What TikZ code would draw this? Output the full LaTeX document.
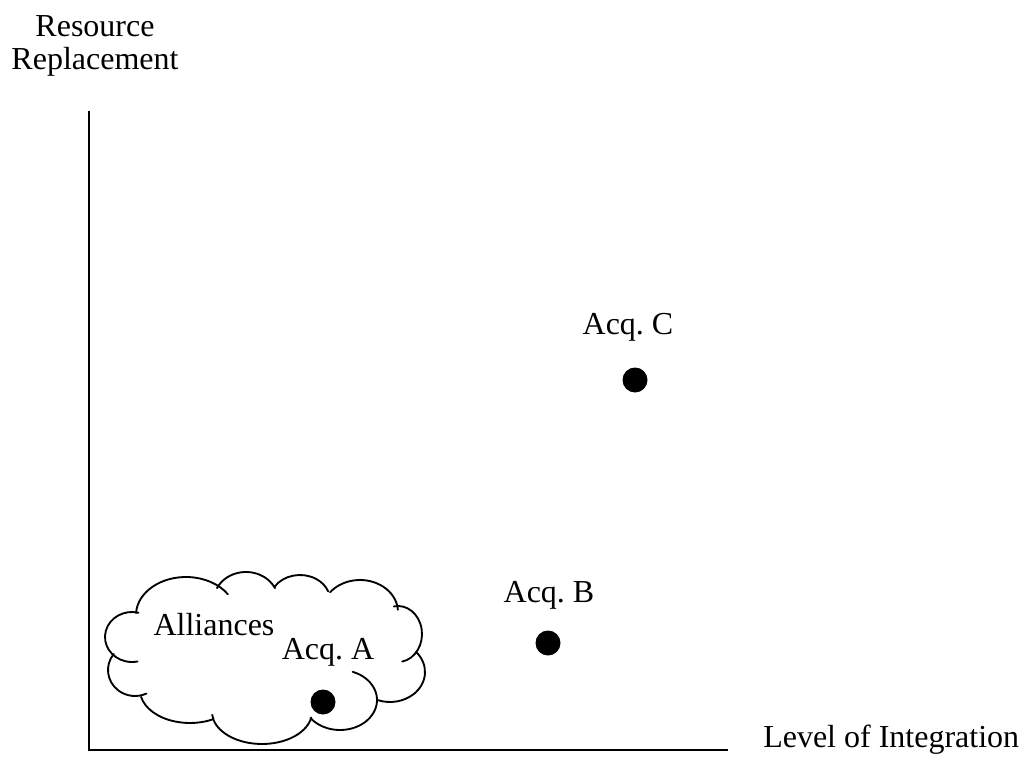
\documentclass[tikz,border=0pt]{standalone}
\usepackage{fontspec}
\setmainfont{Liberation Serif}
\frenchspacing
\newcommand\cloudarc[6]{\draw[cloudline] ([shift={(#5:#3 and #4)}]#1,#2) arc[start angle=#5, end angle=#6, x radius=#3, y radius=#4];}
\begin{document}
\begin{tikzpicture}[x=0.75pt,y=-0.75pt,
  lbl/.style={font=\fontsize{24}{25}\selectfont, inner sep=0pt},
  dot/.style={circle, fill=black, draw=none, minimum size=18.75pt, inner sep=0pt},
  axis/.style={line width=1.2pt},
  cloudline/.style={line width=1.4pt, line cap=round}]
\useasboundingbox (0,0) rectangle (1025,763);
% axes
\coordinate (ytop) at (89,111);
\coordinate (orig) at (89,750);
\coordinate (xend) at (728,750);
\draw[axis] (ytop) -- (orig) -- (xend);
% axis labels
\node[lbl, anchor=north, align=center] (ylab) at (95,15) {Resource\\Replacement};
\node[lbl, anchor=base west] (xlab) at (763,747) {Level of Integration};
% cloud
\cloudarc{186}{615}{50}{38}{183}{327}
\cloudarc{246}{600}{32}{28}{205}{335}
\cloudarc{300}{600}{30}{25}{212}{340}
\cloudarc{360}{612}{38}{32}{218}{356}
\cloudarc{398}{634}{24}{28}{260}{440}
\cloudarc{390}{672}{35}{30}{318}{470}
\cloudarc{340}{700}{37}{30}{290}{503}
\cloudarc{262}{712}{50}{32}{10}{175}
\cloudarc{190}{690}{50}{33}{168}{62}
\cloudarc{135}{670}{27}{26}{218}{65}
\cloudarc{132}{637}{27}{25}{284}{78}
\node[lbl, anchor=base] (alli) at (214,635) {Alliances};
% acquisitions
\node[lbl, anchor=base] (labA) at (328,659) {Acq. A};
\node[dot] (dotA) at (323,702) {};
\node[lbl, anchor=base] (labB) at (549,602) {Acq. B};
\node[dot] (dotB) at (548,643) {};
\node[lbl, anchor=base] (labC) at (628,334) {Acq. C};
\node[dot] (dotC) at (635,380) {};
\end{tikzpicture}
\end{document}
